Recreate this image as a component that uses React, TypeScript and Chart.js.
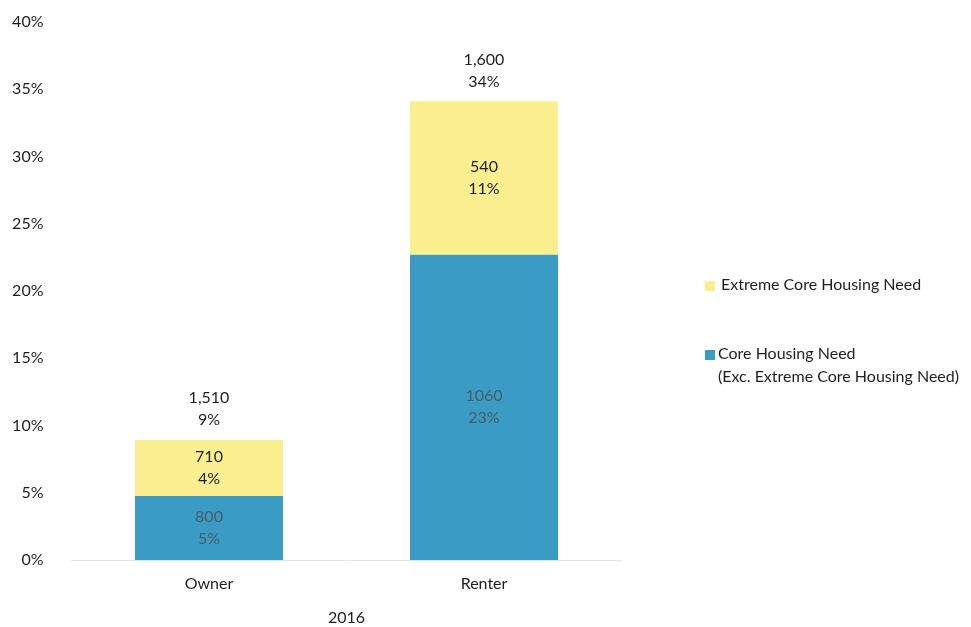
import React, { useEffect, useRef } from "react";
import { Chart, registerables } from "chart.js";

Chart.register(...registerables);

const categories = ["Owner", "Renter"];
const coreValues = [4.76, 22.7];
const extremeValues = [4.16, 11.4];
const coreCountLabels = ["800", "1060"];
const corePctLabels = ["5%", "23%"];
const extremeCountLabels = ["710", "540"];
const extremePctLabels = ["4%", "11%"];
const totalCountLabels = ["1,510", "1,600"];
const totalPctLabels = ["9%", "34%"];
const yTicks = [0, 5, 10, 15, 20, 25, 30, 35, 40];
const xTitle = "2016";
const legendItems = [
  { lines: ["Extreme Core Housing Need"], color: "#FBEE8E" },
  { lines: ["Core Housing Need", "(Exc. Extreme Core Housing Need)"], color: "#3A9CC4" },
];

const FONT = "Lato, 'Open Sans', sans-serif";
const TEXT = "#1f1f1f";

const labelPlugin = {
  id: "segLabels",
  afterDatasetsDraw(chart: any) {
    const ctx = chart.ctx;
    ctx.save();
    ctx.font = `16px ${FONT}`;
    ctx.textAlign = "center";
    ctx.textBaseline = "middle";
    const sets = [
      { counts: coreCountLabels, pcts: corePctLabels, color: "#485c68" },
      { counts: extremeCountLabels, pcts: extremePctLabels, color: TEXT },
    ];
    sets.forEach((s, di) => {
      const meta = chart.getDatasetMeta(di);
      meta.data.forEach((el: any, i: number) => {
        const mid = (el.y + el.base) / 2;
        ctx.fillStyle = s.color;
        ctx.fillText(s.counts[i], el.x, mid - 11);
        ctx.fillText(s.pcts[i], el.x, mid + 11);
      });
    });
    const top = chart.getDatasetMeta(1);
    top.data.forEach((el: any, i: number) => {
      ctx.fillStyle = TEXT;
      ctx.fillText(totalCountLabels[i], el.x, el.y - 42);
      ctx.fillText(totalPctLabels[i], el.x, el.y - 20);
    });
    // legend
    ctx.textAlign = "left";
    const ys = [285, 354];
    legendItems.forEach((it, k) => {
      ctx.fillStyle = it.color;
      ctx.fillRect(705, ys[k] - 4, 10, 10);
      ctx.fillStyle = TEXT;
      it.lines.forEach((ln, j) => {
        ctx.fillText(ln, k === 0 ? 721 : 718, ys[k] + j * 23);
      });
    });
    ctx.restore();
  },
};

export default function App() {
  const ref = useRef<HTMLCanvasElement>(null);
  useEffect(() => {
    if (!ref.current) return;
    const chart = new Chart(ref.current, {
      type: "bar",
      data: {
        labels: categories,
        datasets: [
          { label: "Core Housing Need", data: coreValues, backgroundColor: "#3A9CC4", categoryPercentage: 1, barPercentage: 0.538 },
          { label: "Extreme Core Housing Need", data: extremeValues, backgroundColor: "#FBEE8E", categoryPercentage: 1, barPercentage: 0.538 },
        ],
      },
      options: {
        animation: false,
        responsive: false,
        layout: { padding: { top: 22, right: 349.5, left: 0, bottom: 0 } },
        plugins: { legend: { display: false }, tooltip: { enabled: false } },
        scales: {
          x: {
            stacked: true,
            grid: { display: false, drawTicks: false },
            border: { display: true, color: "#e4e4e4" },
            ticks: { font: { family: FONT, size: 16 }, color: TEXT, padding: 14 },
            title: { display: true, text: xTitle, font: { family: FONT, size: 16 }, color: TEXT, padding: 0 },
            afterFit: (s: any) => { s.height = 67; },
          },
          y: {
            stacked: true,
            min: 0,
            max: 40,
            afterBuildTicks: (s: any) => { s.ticks = yTicks.map((v) => ({ value: v })); },
            grid: { display: false, drawTicks: false },
            border: { display: false },
            ticks: { font: { family: FONT, size: 16 }, color: TEXT, padding: 28, callback: (v: any) => v + "%" },
            afterFit: (s: any) => { s.width = 71.5; s.paddingTop = 10; s.paddingBottom = 10; },
          },
        },
      },
      plugins: [labelPlugin],
    });
    return () => chart.destroy();
  }, []);
  return (
    <div style={{ position: "fixed", left: 0, top: 0, width: 971, height: 627, background: "#fff" }}>
      <canvas ref={ref} width={971} height={627} />
    </div>
  );
}
